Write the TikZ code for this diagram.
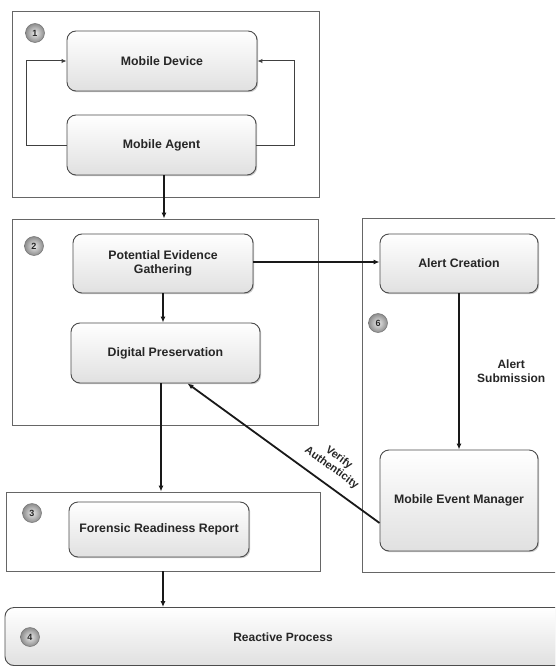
\documentclass[tikz,border=0pt]{standalone}
\usepackage{fontspec}
\setmainfont{Liberation Sans}
\usetikzlibrary{arrows.meta,shadows,calc}
\begin{document}
\begin{tikzpicture}[x=1pt,y=-1pt,
  font=\fontsize{12.3}{14}\selectfont\bfseries,
  outer/.style={draw=black!60, line width=0.9pt, inner sep=0pt},
  stepbox/.style={draw=black!70, line width=0.9pt, rounded corners=9pt,
    top color=white, bottom color=black!12, align=center, inner sep=2pt, text=black!85,
    drop shadow={shadow xshift=1.2pt, shadow yshift=-1.2pt, opacity=0.35, fill=black!60}},
  badge/.style={circle, minimum size=19pt, inner sep=0pt, inner color=black!8, outer color=black!45,
    draw=black!55, line width=0.5pt, text=black!85, font=\fontsize{9}{9}\selectfont\bfseries},
  conn/.style={draw=black!90, line width=1.8pt, -{Latex[length=6pt,width=5pt]}},
  loop/.style={draw=black!75, line width=1pt, -{Latex[length=5pt,width=4.5pt]}},
  lbl/.style={font=\fontsize{12}{14}\selectfont\bfseries, align=center, text=black!85}
]
\clip (0,0) rectangle (555,666);
\fill[white] (0,0) rectangle (555,666);

% outer boxes
\node[outer, minimum width=307pt, minimum height=186pt] (b1) at (165.5,104) {};
\node[outer, minimum width=306pt, minimum height=206pt] (b2) at (165.7,322) {};
\node[outer, minimum width=314pt, minimum height=79pt] (b3) at (163.2,531.5) {};
\node[outer, minimum width=220pt, minimum height=354pt] (b6) at (472,395) {};
\node[stepbox, minimum width=560pt, minimum height=58pt] (b4) at (285,636.5) {};

% badges
\node[badge] (n1) at (35,33) {1};
\node[badge] (n2) at (34,246) {2};
\node[badge] (n3) at (32,513) {3};
\node[badge] (n6) at (378,323) {6};
\node[badge] (n4) at (30,637) {4};

% inner nodes
\node[stepbox, minimum width=190pt, minimum height=60pt] (md) at (162,61) {Mobile Device};
\node[stepbox, minimum width=189pt, minimum height=60pt] (ma) at (161.5,145) {Mobile Agent};
\node[stepbox, minimum width=180pt, minimum height=59pt] (peg) at (163,263.5) {Potential Evidence\\Gathering};
\node[stepbox, minimum width=189pt, minimum height=60pt] (dp) at (165.5,353) {Digital Preservation};
\node[stepbox, minimum width=158pt, minimum height=59pt] (ac) at (459,263.5) {Alert Creation};
\node[stepbox, minimum width=158pt, minimum height=101pt] (mem) at (459,500.5) {Mobile Event Manager};
\node[stepbox, minimum width=180pt, minimum height=55pt] (frr) at (159,529.5) {Forensic Readiness Report};
\node[lbl] (rp) at (283,637) {Reactive Process};

% loops
\draw[loop] (ma.west) -- ++(-40,0) |- (md.west);
\draw[loop] (ma.east) -- ++(38.5,0) |- (md.east);

% connectors
\draw[conn] ([xshift=2.5pt]ma.south) -- ([xshift=2.5pt]ma.south |- b2.north);
\draw[conn] (peg.south) -- (peg.south |- dp.north);
\draw[conn] ([yshift=1.5pt]peg.east) -- ([yshift=1.5pt]ac.west);
\draw[conn] (ac.south) -- (ac.south |- mem.north)
  node[lbl, midway, right=14pt] {Alert\\Submission};
\draw[conn] ([xshift=-4.5pt]dp.south) -- ([xshift=-4.5pt]dp.south |- b3.north);
\draw[conn] (peg.south |- b3.south) -- (peg.south |- b4.north);
\draw[conn] ([yshift=-22.5pt]mem.west) -- ([xshift=22pt]dp.south)
  node[lbl, sloped, pos=0.3, above=7pt, font=\fontsize{11}{12.5}\selectfont\bfseries] {Verify\\Authenticity};
\end{tikzpicture}
\end{document}
